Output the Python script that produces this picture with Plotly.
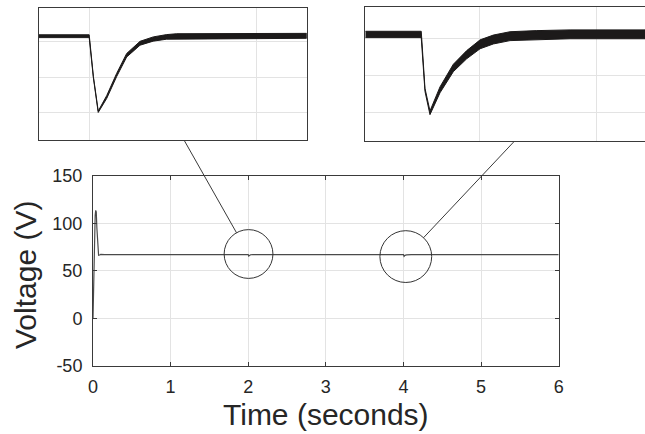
import math
import plotly.graph_objects as go

# ---------------- data ----------------
# main trace: time (s) and voltage (V)
main_t = [0.0, 0.005, 0.012, 0.02, 0.028, 0.035, 0.042, 0.05, 0.06, 0.072, 0.085, 0.1, 0.15,
          0.5, 1.0, 1.5, 1.99, 2.0, 2.006, 2.015, 2.03, 2.06, 2.5, 3.0, 3.5, 3.99, 4.0,
          4.008, 4.02, 4.04, 4.1, 4.5, 5.0, 5.5, 6.0]
main_v = [0.0, 25.0, 60.0, 90.0, 108.0, 113.5, 112.0, 95.0, 78.0, 66.3, 66.6, 67.2, 67.0,
          67.1, 66.9, 67.1, 67.0, 67.0, 65.5, 66.4, 66.9, 67.0, 67.1, 66.9, 67.1, 67.0, 67.0,
          65.3, 66.3, 66.8, 67.0, 67.1, 66.9, 67.0, 67.0]

# zoomed view 1 (around t = 2 s): centre of ripple band and ripple half-amplitude
z1_t = [1.970, 2.000, 2.0025, 2.0054, 2.0105, 2.0164, 2.0224, 2.0304, 2.0383, 2.0463, 2.0523, 2.130]
z1_v = [67.16, 67.16, 66.00, 65.02, 65.44, 66.06, 66.62, 66.96, 67.08, 67.14, 67.16, 67.17]
z1_r = [0.04, 0.04, 0.02, 0.02, 0.04, 0.045, 0.05, 0.055, 0.06, 0.065, 0.07, 0.07]

# zoomed view 2 (around t = 4 s)
z2_t = [3.952, 4.000, 4.0032, 4.0075, 4.0161, 4.0275, 4.039, 4.0505, 4.0619, 4.0762, 4.0991, 4.1277, 4.192]
z2_v = [67.117, 67.117, 65.62, 65.00, 65.62, 66.21, 66.57, 66.85, 66.98, 67.07, 67.10, 67.12, 67.12]
z2_r = [0.085, 0.085, 0.04, 0.05, 0.08, 0.10, 0.11, 0.12, 0.12, 0.12, 0.12, 0.12, 0.12]

# zoom circles on main axes (centre time, centre voltage, radius in px)
circ_t = [2.004, 4.03]
circ_v = [67.7, 65.0]
circ_r = [24.4, 25.9]

x_ticks = [0, 1, 2, 3, 4, 5, 6]
x_labels = ["0", "1", "2", "3", "4", "5", "6"]
y_ticks = [-50, 0, 50, 100, 150]
y_labels = ["-50", "0", "50", "100", "150"]

# ---------------- layout geometry ----------------
W, H = 645, 434
main_x_dom = [93 / W, 558.7 / W]
main_y_dom = [1 - 366 / H, 1 - 175.7 / H]
in1_x_dom = [39 / W, 306.7 / W]
in1_y_dom = [1 - 140 / H, 1 - 8.3 / H]
in2_x_dom = [365.3 / W, 1.0]
in2_y_dom = [1 - 141.3 / H, 1 - 7.3 / H]
main_xr = [0, 6]
main_yr = [-50, 150]

ink = "#262626"
frame = "#3a3a3a"
grid = "#e3e3e3"
sig = "#1c1a1a"

fig = go.Figure()

fig.add_trace(go.Scatter(x=main_t, y=main_v, mode="lines",
                         line=dict(color="#4a4a4a", width=1.2),
                         xaxis="x", yaxis="y", showlegend=False, hoverinfo="skip"))

def band(ts, vs, rs, xa, ya):
    up = [v + r for v, r in zip(vs, rs)]
    lo = [v - r for v, r in zip(vs, rs)]
    fig.add_trace(go.Scatter(x=ts + ts[::-1], y=up + lo[::-1], mode="lines",
                             fill="toself", fillcolor=sig,
                             line=dict(color=sig, width=1.0),
                             xaxis=xa, yaxis=ya, showlegend=False, hoverinfo="skip"))

band(z1_t, z1_v, z1_r, "x2", "y2")
band(z2_t, z2_v, z2_r, "x3", "y3")

tickfont = dict(family="Liberation Sans, Arial, sans-serif", size=18, color=ink)

fig.update_layout(
    width=W, height=H,
    margin=dict(l=0, r=0, t=0, b=0, pad=0, autoexpand=False),
    paper_bgcolor="white", plot_bgcolor="white",
    xaxis=dict(domain=main_x_dom, range=main_xr, tickvals=x_ticks, ticktext=x_labels,
               ticks="inside", ticklen=4,
               tickcolor=frame, showline=True, linecolor=frame, linewidth=1, mirror="ticks",
               showgrid=True, gridcolor=grid, gridwidth=1, zeroline=False, tickfont=tickfont,
               ticklabelstandoff=4, anchor="y"),
    yaxis=dict(domain=main_y_dom, range=main_yr, tickvals=y_ticks, ticktext=y_labels,
               ticks="inside", ticklen=4,
               tickcolor=frame, showline=True, linecolor=frame, linewidth=1, mirror="ticks",
               showgrid=True, gridcolor=grid, gridwidth=1, zeroline=False, tickfont=tickfont,
               ticklabelstandoff=6, anchor="x"),
    xaxis2=dict(domain=in1_x_dom, range=[1.97, 2.13], tick0=2.1, dtick=0.1, showticklabels=False,
                ticks="", showline=True, linecolor=frame, linewidth=1.3, mirror=True,
                showgrid=True, gridcolor=grid, zeroline=False, anchor="y2"),
    yaxis2=dict(domain=in1_y_dom, range=[64.22, 67.95], tick0=65, dtick=1, showticklabels=False,
                ticks="", showline=True, linecolor=frame, linewidth=1.3, mirror=True,
                showgrid=True, gridcolor=grid, zeroline=False, anchor="x2"),
    xaxis3=dict(domain=in2_x_dom, range=[3.952, 4.192], tick0=4.05, dtick=0.1, showticklabels=False,
                ticks="", showline=True, linecolor=frame, linewidth=1.3, mirror=True,
                showgrid=True, gridcolor=grid, zeroline=False, anchor="y3"),
    yaxis3=dict(domain=in2_y_dom, range=[64.23, 67.85], tick0=65, dtick=1, showticklabels=False,
                ticks="", showline=True, linecolor=frame, linewidth=1.3, mirror=False,
                showgrid=True, gridcolor=grid, zeroline=False, anchor="x3"),
)

# axis titles
titlefont = dict(family="Liberation Sans, Arial, sans-serif", size=30, color=ink)
fig.add_annotation(text="Time (seconds)", xref="paper", yref="paper",
                   x=(main_x_dom[0] + main_x_dom[1]) / 2, y=1 - 414 / H,
                   xanchor="center", yanchor="middle", showarrow=False, font=titlefont)
fig.add_annotation(text="Voltage (V)", xref="paper", yref="paper",
                   x=25 / W, y=1 - 275 / H, textangle=-90,
                   xanchor="center", yanchor="middle", showarrow=False, font=titlefont)

# helpers: data -> paper
def to_paper_x(t):
    return main_x_dom[0] + (t - main_xr[0]) / (main_xr[1] - main_xr[0]) * (main_x_dom[1] - main_x_dom[0])

def to_paper_y(v):
    return main_y_dom[0] + (v - main_yr[0]) / (main_yr[1] - main_yr[0]) * (main_y_dom[1] - main_y_dom[0])

# circles
for t, v, r in zip(circ_t, circ_v, circ_r):
    fig.add_shape(type="circle", xref="x", yref="y", xsizemode="pixel", ysizemode="pixel",
                  xanchor=t, yanchor=v, x0=-r, x1=r, y0=-r, y1=r,
                  line=dict(color="#333333", width=1))

# connector lines: from bottom of inset to circle rim
conn_start_px = [(184, 140), (514.3, 141.3)]
for (sx, sy), t, v, r in zip(conn_start_px, circ_t, circ_v, circ_r):
    cx = to_paper_x(t) * W
    cy = (1 - to_paper_y(v)) * H
    dx, dy = cx - sx, cy - sy
    d = math.hypot(dx, dy)
    ex, ey = cx - dx / d * r, cy - dy / d * r
    fig.add_shape(type="line", xref="paper", yref="paper",
                  x0=sx / W, y0=1 - sy / H, x1=ex / W, y1=1 - ey / H,
                  line=dict(color="#3a3a3a", width=1))

fig.write_html("out.html")
